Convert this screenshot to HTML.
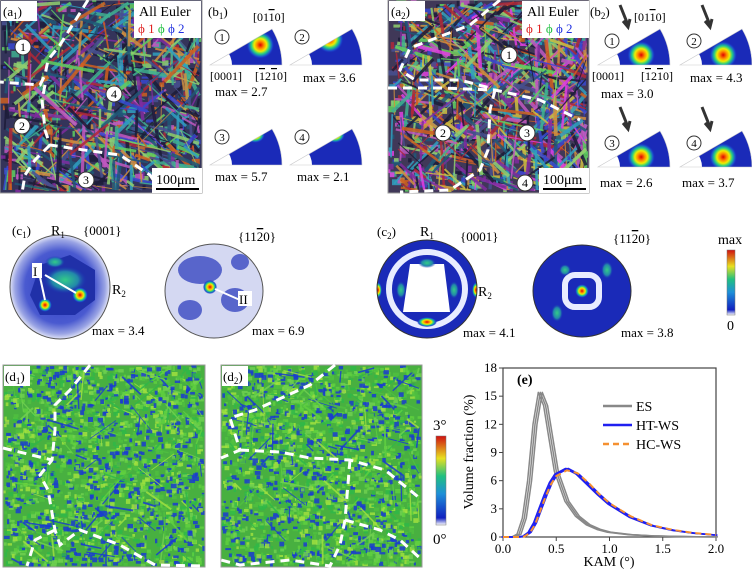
<!DOCTYPE html>
<html><head><meta charset="utf-8"><style>
html,body{margin:0;padding:0;background:#fff;overflow:hidden;width:752px;height:574px;}
svg{display:block;font-family:"Liberation Serif",serif;}
</style></head><body>
<svg id="fig" width="752" height="574" viewBox="0 0 752 574" xmlns="http://www.w3.org/2000/svg">
<defs>
<linearGradient id="jet" x1="0" y1="1" x2="0" y2="0">
<stop offset="0" stop-color="#fff"/><stop offset="0.08" stop-color="#1020c0"/><stop offset="0.35" stop-color="#1e8fd8"/><stop offset="0.55" stop-color="#20c080"/><stop offset="0.75" stop-color="#e8e020"/><stop offset="1" stop-color="#d01010"/>
</linearGradient>
<radialGradient id="hot" cx="0.5" cy="0.5" r="0.5">
<stop offset="0" stop-color="#d00"/><stop offset="0.25" stop-color="#f80"/><stop offset="0.45" stop-color="#ee0"/><stop offset="0.65" stop-color="#2c8"/><stop offset="0.85" stop-color="#1a4ed0"/><stop offset="1" stop-color="#1a2ab8" stop-opacity="0"/>
</radialGradient>
<radialGradient id="grn" cx="0.5" cy="0.5" r="0.5">
<stop offset="0" stop-color="#3c8"/><stop offset="0.6" stop-color="#28a"/><stop offset="1" stop-color="#1a2ab8" stop-opacity="0"/>
</radialGradient>
<radialGradient id="pale" cx="0.5" cy="0.5" r="0.5">
<stop offset="0" stop-color="#2a3ac0"/><stop offset="0.7" stop-color="#4a5ad0"/><stop offset="0.9" stop-color="#9aa4e4"/><stop offset="1" stop-color="#dfe2f6"/>
</radialGradient>
<clipPath id="ca1"><rect x="0" y="0" width="202" height="193"/></clipPath>
<clipPath id="ca2"><rect x="388" y="0" width="201" height="193"/></clipPath>
<clipPath id="cd1"><rect x="3" y="365" width="202" height="202"/></clipPath>
<clipPath id="cd2"><rect x="221" y="365" width="201" height="202"/></clipPath>
<clipPath id="cc2a"><ellipse cx="427" cy="289" rx="50" ry="49"/></clipPath>
<clipPath id="cc2b"><ellipse cx="582" cy="291" rx="49" ry="46"/></clipPath>
</defs>

<!-- EBSD maps -->
<g clip-path="url(#ca1)"><rect x="0" y="0" width="202" height="193" fill="#34345a"/><g id="m1"></g></g>
<g clip-path="url(#ca2)"><rect x="388" y="0" width="201" height="193" fill="#403858"/><g id="m2"></g></g>
<g clip-path="url(#cd1)"><rect x="3" y="365" width="202" height="202" fill="#48b040"/><g id="m3"></g></g>
<g clip-path="url(#cd2)"><rect x="221" y="365" width="201" height="202" fill="#48b040"/><g id="m4"></g></g>
<rect x="0" y="0" width="202" height="193" fill="none" stroke="#999"/>
<rect x="388" y="0" width="201" height="193" fill="none" stroke="#999"/>
<rect x="3" y="365" width="202" height="202" fill="none" stroke="#999"/>
<rect x="221" y="365" width="201" height="202" fill="none" stroke="#999"/>

<!-- grain boundaries -->
<g fill="none" stroke="#fff" stroke-width="3" stroke-dasharray="9,6">
<path d="M88,0 L60,45 L48,60 L45,75 L40,85 L0,82 M45,85 L42,100 L45,130 L50,145 L70,148 L120,155 L150,175 L160,190 M50,145 L35,160 L25,175 L22,193"/>
<path d="M500,0 L470,25 L410,48 L400,70 L415,80 L460,80 L490,88 M388,88 L440,88 L495,90 L540,100 L580,120 M495,90 L490,110 L488,150 L480,170 L450,190 L400,192"/>
<path d="M90,365 L70,390 L55,405 L55,430 L52,460 L40,475 L48,490 L55,530 L60,545 L80,530 L120,545 L155,565 L205,566 M3,448 L52,460 M55,530 L35,540 L27,566"/>
<path d="M335,365 L310,385 L255,410 L230,418 L240,450 L221,458 M240,450 L280,452 L310,458 L350,460 L385,470 L422,500 M350,460 L345,520 L340,545 L330,566 L290,560 L240,565 L221,560 M345,520 L380,530 L400,540 L422,560"/>
</g>

<!-- map labels -->
<g font-size="13">
<rect x="1" y="1" width="36" height="20" fill="#fff"/><text x="3" y="16">(a<tspan font-size="9" dy="3">1</tspan><tspan dy="-3">)</tspan></text>
<rect x="389" y="1" width="36" height="20" fill="#fff"/><text x="391" y="16">(a<tspan font-size="9" dy="3">2</tspan><tspan dy="-3">)</tspan></text>
<rect x="4" y="366" width="26" height="20" fill="#fff"/><text x="5" y="381">(d<tspan font-size="9" dy="3">1</tspan><tspan dy="-3">)</tspan></text>
<rect x="222" y="366" width="26" height="20" fill="#fff"/><text x="223" y="381">(d<tspan font-size="9" dy="3">2</tspan><tspan dy="-3">)</tspan></text>
<rect x="134" y="1" width="67" height="37" fill="#fff"/><text x="139" y="16" font-size="14">All Euler</text>
<text x="138" y="33" font-size="13"><tspan fill="#e02020">ϕ 1</tspan> <tspan fill="#20c040">ϕ</tspan> <tspan fill="#2030e0">ϕ 2</tspan></text>
<rect x="522" y="1" width="67" height="37" fill="#fff"/><text x="527" y="16" font-size="14">All Euler</text>
<text x="526" y="33" font-size="13"><tspan fill="#e02020">ϕ 1</tspan> <tspan fill="#20c040">ϕ</tspan> <tspan fill="#2030e0">ϕ 2</tspan></text>
<rect x="152" y="168" width="50" height="25" fill="#fff"/><text x="156" y="184" font-size="14">100μm</text><line x1="156" y1="189" x2="199" y2="189" stroke="#000" stroke-width="2"/>
<rect x="539" y="168" width="50" height="25" fill="#fff"/><text x="543" y="184" font-size="14">100μm</text><line x1="543" y1="189" x2="586" y2="189" stroke="#000" stroke-width="2"/>
</g>
<g font-size="12">
<g fill="#fff" stroke="#333"><circle cx="23" cy="47" r="8"/><circle cx="22" cy="126" r="8"/><circle cx="86" cy="180" r="8"/><circle cx="114" cy="94" r="8"/>
<circle cx="509" cy="55" r="8"/><circle cx="443" cy="133" r="8"/><circle cx="527" cy="133" r="8"/><circle cx="525" cy="183" r="8"/></g>
<g text-anchor="middle"><text x="23" y="51">1</text><text x="22" y="130">2</text><text x="86" y="184">3</text><text x="114" y="98">4</text>
<text x="509" y="59">1</text><text x="443" y="137">2</text><text x="527" y="137">3</text><text x="525" y="187">4</text></g>
</g>

<!-- IPF sectors -->
<g id="ipf"></g>
<g font-size="13">
<text x="208" y="16">(b<tspan font-size="9" dy="3">1</tspan><tspan dy="-3">)</tspan></text>
<text x="590" y="16">(b<tspan font-size="9" dy="3">2</tspan><tspan dy="-3">)</tspan></text>
<text x="253" y="21" font-size="12">[01<tspan text-decoration="overline">1</tspan>0]</text>
<text x="634" y="21" font-size="12">[01<tspan text-decoration="overline">1</tspan>0]</text>
<text x="210" y="80" font-size="12">[0001]</text><text x="255" y="80" font-size="12">[<tspan text-decoration="overline">1</tspan>2<tspan text-decoration="overline">1</tspan>0]</text>
<text x="592" y="80" font-size="12">[0001]</text><text x="641" y="80" font-size="12">[<tspan text-decoration="overline">1</tspan>2<tspan text-decoration="overline">1</tspan>0]</text>
<text x="215" y="96">max = 2.7</text><text x="303" y="82">max = 3.6</text>
<text x="215" y="181">max = 5.7</text><text x="297" y="181">max = 2.1</text>
<text x="601" y="98">max = 3.0</text><text x="690" y="82">max = 4.3</text>
<text x="600" y="187">max = 2.6</text><text x="682" y="187">max = 3.7</text>
</g>

<!-- pole figures -->
<g>
<ellipse cx="60" cy="287" rx="50" ry="52" fill="url(#pale)" stroke="#555"/>
<path d="M40,265 L70,255 L95,270 L95,300 L75,315 L40,315 L30,295 Z" fill="#2030a8"/>
<ellipse cx="65" cy="280" rx="22" ry="14" fill="url(#grn)"/>
<ellipse cx="55" cy="262" rx="10" ry="6" fill="url(#grn)"/>
<circle cx="45" cy="305" r="7" fill="url(#hot)"/><circle cx="80" cy="295" r="8" fill="url(#hot)"/>
<ellipse cx="214" cy="291" rx="49" ry="47" fill="#d4d8f2" stroke="#555"/>
<ellipse cx="200" cy="270" rx="22" ry="14" fill="#3848c0" opacity="0.8"/>
<ellipse cx="235" cy="300" rx="14" ry="12" fill="#3848c0" opacity="0.8"/>
<ellipse cx="190" cy="310" rx="12" ry="10" fill="#3848c0" opacity="0.8"/>
<ellipse cx="240" cy="262" rx="9" ry="8" fill="#3848c0" opacity="0.8"/>
<circle cx="210" cy="287" r="7" fill="url(#hot)"/>
<g clip-path="url(#cc2a)">
<rect x="377" y="240" width="100" height="98" fill="#1a2ab8"/>
<ellipse cx="427" cy="289" rx="38" ry="37" fill="none" stroke="#e8ecff" stroke-width="6"/>
<path d="M410,264 L444,264 L450,312 L403,312 Z" fill="#fff"/>
<ellipse cx="427" cy="322" rx="10" ry="5" fill="url(#hot)"/>
<ellipse cx="378" cy="290" rx="4" ry="8" fill="url(#hot)"/><ellipse cx="476" cy="290" rx="4" ry="8" fill="url(#hot)"/>
<ellipse cx="454" cy="290" rx="5" ry="9" fill="url(#grn)"/><ellipse cx="401" cy="290" rx="5" ry="9" fill="url(#grn)"/><ellipse cx="427" cy="263" rx="9" ry="5" fill="url(#grn)"/>
</g>
<ellipse cx="427" cy="289" rx="50" ry="49" fill="none" stroke="#333"/>
<g clip-path="url(#cc2b)">
<rect x="533" y="245" width="100" height="95" fill="#1a2ab8"/>
<rect x="565" y="275" width="34" height="32" rx="10" fill="none" stroke="#e8ecff" stroke-width="6"/>
<circle cx="582" cy="291" r="7" fill="url(#hot)"/>
<ellipse cx="607" cy="270" rx="6" ry="9" fill="url(#grn)"/><ellipse cx="557" cy="313" rx="6" ry="9" fill="url(#grn)"/>
<ellipse cx="565" cy="270" rx="6" ry="6" fill="url(#grn)"/>
</g>
<ellipse cx="582" cy="291" rx="49" ry="46" fill="none" stroke="#333"/>
<g stroke="#fff" stroke-width="2"><line x1="40" y1="277" x2="45" y2="300"/><line x1="45" y1="275" x2="76" y2="293"/><line x1="240" y1="300" x2="215" y2="289"/></g>
</g>
<g font-size="13">
<text x="12" y="235">(c<tspan font-size="9" dy="3">1</tspan><tspan dy="-3">)</tspan></text>
<text x="51" y="235" font-size="14">R<tspan font-size="9" dy="3">1</tspan></text>
<text x="83" y="235">{0001}</text>
<text x="112" y="294" font-size="14">R<tspan font-size="9" dy="3">2</tspan></text>
<rect x="32" y="263" width="10" height="15" fill="#fff"/><text x="33" y="276">I</text>
<rect x="238" y="291" width="14" height="15" fill="#fff"/><text x="239" y="304">II</text>
<text x="92" y="335">max = 3.4</text>
<text x="238" y="241">{11<tspan text-decoration="overline">2</tspan>0}</text>
<text x="252" y="335">max = 6.9</text>
<text x="377" y="236">(c<tspan font-size="9" dy="3">2</tspan><tspan dy="-3">)</tspan></text>
<text x="420" y="236" font-size="14">R<tspan font-size="9" dy="3">1</tspan></text>
<text x="460" y="241">{0001}</text>
<text x="478" y="296" font-size="14">R<tspan font-size="9" dy="3">2</tspan></text>
<text x="463" y="337">max = 4.1</text>
<text x="613" y="243">{11<tspan text-decoration="overline">2</tspan>0}</text>
<text x="621" y="337">max = 3.8</text>
<text x="718" y="244" font-size="14">max</text>
<text x="727" y="330" font-size="14">0</text>
</g>
<rect x="727" y="250" width="8" height="65" fill="url(#jet)" stroke="#777" stroke-width="0.5"/>
<rect x="436" y="436" width="10" height="89" fill="url(#jet)" stroke="#777" stroke-width="0.5"/>
<text x="433" y="430" font-size="15">3°</text>
<text x="433" y="544" font-size="15">0°</text>

<!-- chart e -->
<g id="chart"></g>
</svg>
<script>
// ----- chart data -----
const kam = [0,0.1,0.15,0.2,0.25,0.3,0.35,0.4,0.45,0.5,0.6,0.7,0.8,0.9,1.0,1.2,1.4,1.6,1.8,2.0];
const esVals = [0,0,0.3,2,6,12,15.4,14,10.5,7,3.8,2.2,1.3,0.8,0.5,0.25,0.12,0.06,0.03,0.01];
const htVals = [0,0,0,0.1,0.5,1.5,3,4.5,5.8,6.7,7.3,6.7,5.6,4.5,3.5,2.1,1.2,0.7,0.4,0.2];
const hcVals = [0,0,0,0.05,0.4,1.3,2.8,4.3,5.6,6.5,7.1,6.8,5.8,4.6,3.6,2.2,1.25,0.75,0.42,0.22];
const xTicks = [0,0.5,1.0,1.5,2.0];
const yTicks = [0,3,6,9,12,15,18];
const NS='http://www.w3.org/2000/svg';
const X0=503,X1=716,Y0=537,Y1=368;
const xs=v=>X0+(v/2)*(X1-X0), ys=v=>Y0-(v/18)*(Y0-Y1);
function mk(tag,attrs,parent){const e=document.createElementNS(NS,tag);for(const k in attrs)e.setAttribute(k,attrs[k]);parent.appendChild(e);return e;}
const ch=document.getElementById('chart');
let fr=mk('rect',{x:X0,y:Y1,width:X1-X0,height:Y0-Y1,fill:'none',stroke:'#444','stroke-width':1.2},ch);


xTicks.forEach(t=>{
  let l=mk('line',{x1:xs(t),x2:xs(t),y1:Y0,y2:Y0+4,stroke:'#444'},ch);
  
  
  let tx=mk('text',{x:xs(t),y:Y0+16,'text-anchor':'middle','font-size':13},ch);tx.textContent=t.toFixed(1);
  
  
});
yTicks.forEach(t=>{
  let l=mk('line',{x1:X0-4,x2:X0,y1:ys(t),y2:ys(t),stroke:'#444'},ch);
  
  
  let tx=mk('text',{x:X0-6,y:ys(t)+4,'text-anchor':'end','font-size':13},ch);tx.textContent=t;
  
  
});
let xt=mk('text',{x:609,y:566,'text-anchor':'middle','font-size':14},ch);xt.textContent='KAM (°)';


let yt=mk('text',{x:473,y:452,'text-anchor':'middle','font-size':14,transform:'rotate(-90 473 452)'},ch);yt.textContent='Volume fraction (%)';


let pl=mk('text',{x:517,y:384,'font-size':14,'font-weight':'bold'},ch);pl.textContent='(e)';


function curve(vals,shift){return vals.map((v,i)=>(i?'L':'M')+(xs(kam[i])+shift).toFixed(1)+','+ys(v).toFixed(1)).join(' ');}
[-2,0,2].forEach(s=>{let p=mk('path',{d:curve(esVals,s),fill:'none',stroke:'#888','stroke-width':1.5,'stroke-linejoin':'round'},ch);
  
  });
[-1.5,0,1.5].forEach(s=>{let p=mk('path',{d:curve(htVals,s),fill:'none',stroke:'#2020f0','stroke-width':1.5},ch);
  
  });
let hc=mk('path',{d:curve(hcVals,0),fill:'none',stroke:'#f59030','stroke-width':2,'stroke-dasharray':'6,4'},ch);


const legend=[['ES','#888',''],['HT-WS','#2020f0',''],['HC-WS','#f59030','6,4']];
legend.forEach((e,i)=>{const y=406+i*19;
  let g=mk('g',{},ch);
  
  
  mk('line',{x1:603,x2:632,y1:y,y2:y,stroke:e[1],'stroke-width':2.5,'stroke-dasharray':e[2]},g);
  let t=mk('text',{x:636,y:y+5,'font-size':14},g);t.textContent=e[0];});

// ----- decorative map textures (seeded), all clamped inside their panel -----
let seed=7;function rnd(){seed=(seed*16807)%2147483647;return seed/2147483647;}
const clamp=(v,a,b)=>Math.max(a,Math.min(b,v));
function tex(id,x0,y0,w,h,cols,n,dark,sw,maxL,rw,rh){
  const g=document.getElementById(id);
  for(let i=0;i<dark;i++){const cw=2+rnd()*rw,chh=2+rnd()*rh;const x=x0+rnd()*(w-cw),y=y0+rnd()*(h-chh);mk('rect',{x:x.toFixed(1),y:y.toFixed(1),width:cw.toFixed(1),height:chh.toFixed(1),fill:cols[Math.floor(rnd()*cols.length)],opacity:0.85},g);}
  for(let i=0;i<n;i++){
    const x=x0+4+rnd()*(w-8),y=y0+4+rnd()*(h-8),a=[0.6,-0.9,0.1,1.4][i%4]+rnd()*0.3,L=8+rnd()*maxL;
    mk('line',{x1:x.toFixed(1),y1:y.toFixed(1),x2:clamp(x+Math.cos(a)*L,x0+3,x0+w-3).toFixed(1),y2:clamp(y+Math.sin(a)*L,y0+3,y0+h-3).toFixed(1),stroke:cols[Math.floor(rnd()*cols.length)],'stroke-width':(0.8+rnd()*sw).toFixed(1),opacity:0.85},g);
  }
}
const eul=['#d06020','#60d060','#3848d0','#802ca0','#30a0c0','#b02838','#d09040','#40b090','#485090','#90d070','#c058c0','#205878','#1c1c38','#1c1c38'];
tex('m1',0,0,202,193,eul,550,500,3,50,8,5);
tex('m2',388,0,201,193,eul.concat(['#e040e0','#d0c040']),650,700,3,45,8,5);
const kamc=['#1a3cd0','#1a3cd0','#60d040','#a0e040','#30b848','#50c040','#70d050'];
tex('m3',3,365,202,202,kamc,120,2200,1.2,25,4,3);
tex('m4',221,365,201,202,kamc,120,2200,1.2,25,4,3);

// ----- IPF sectors -----
const ipf=document.getElementById('ipf');
const sectors=[[210,65,0.7,0.6],[290,65,0.55,0.75],[210,165,0.05,0.95],[290,165,0.05,0.95],[598,65,0.6,0.35],[680,65,0.6,0.35],[598,167,0.6,0.35],[680,167,0.6,0.35]];
sectors.forEach((s,i)=>{
  const [x,y,hx,hy]=s;const g=mk('g',{},ipf);
  
  
  const d=`M${x},${y} L${x+72},${y} A72,72 0 0 0 ${x+62},${y-36} Z`;
  const cid='cp'+i;const cp=mk('clipPath',{id:cid},g);mk('path',{d:d},cp);
  const ig=mk('g',{'clip-path':`url(#${cid})`},g);
  mk('rect',{x:x,y:y-40,width:74,height:42,fill:'#1a2ab8'},ig);
  mk('ellipse',{cx:x,cy:y,rx:22,ry:22,fill:'#fff'},ig);
  mk('ellipse',{cx:x+hx*72,cy:y-hy*40+4,rx:14,ry:14,fill:'url(#hot)'},ig);
  if(i===2||i===3) mk('ellipse',{cx:x+45,cy:y-30,rx:10,ry:8,fill:'url(#hot)'},ig);
  mk('path',{d:d,fill:'none',stroke:'#ccc','stroke-width':0.6},g);
  mk('circle',{cx:x+ (i<4?12:14),cy:y-(i<4?28:24),r:7,fill:'#fff',stroke:'#333'},g);
  const t=mk('text',{x:x+(i<4?12:14),y:y-(i<4?24:20),'text-anchor':'middle','font-size':11},g);t.textContent=String(i%4+1);
  if(i>=4) mk('path',{d:`M${x+22},${y-60} L${x+30},${y-40} M${x+25},${y-44} L${x+30},${y-38} L${x+32},${y-46}`,stroke:'#333','stroke-width':3,fill:'none'},g);
});
</script>
</body></html>
